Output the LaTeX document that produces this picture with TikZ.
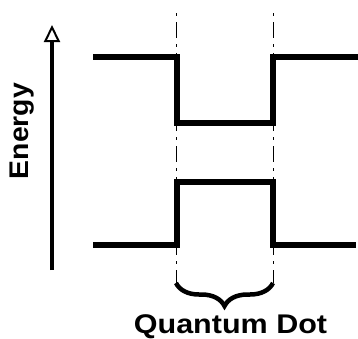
\documentclass[tikz,border=0pt]{standalone}
\usepackage{fontspec}
\setmainfont{Liberation Sans}
\usetikzlibrary{arrows.meta,decorations.pathreplacing}
\begin{document}
\begin{tikzpicture}[x=1pt,y=-1pt,
  band/.style={line width=6pt, line join=miter, line cap=butt},
  guide/.style={line width=1pt, dash pattern=on 3pt off 6pt on 16pt off 6pt},
  lbl/.style={font=\bfseries\fontsize{27}{27}\selectfont, inner sep=0pt}]
\useasboundingbox (0,0) rectangle (358,338);
% guides
\coordinate (g1t) at (176,13);
\coordinate (g1b) at (176,283);
\coordinate (g2t) at (273,13);
\coordinate (g2b) at (273,283);
\draw[guide] (g1t) -- (g1b);
\draw[guide] (g2t) -- (g2b);
% conduction band
\coordinate (c1) at (93,57);
\coordinate (c2) at (177,57);
\coordinate (c3) at (177,123);
\coordinate (c4) at (273,123);
\coordinate (c5) at (273,57);
\coordinate (c6) at (358,57);
\draw[band] (c1) -- (c2) -- (c3) -- (c4) -- (c5) -- (c6);
% valence band
\coordinate (v1) at (93,245);
\coordinate (v2) at (177,245);
\coordinate (v3) at (177,182);
\coordinate (v4) at (273,182);
\coordinate (v5) at (273,245);
\coordinate (v6) at (356,245);
\draw[band] (v1) -- (v2) -- (v3) -- (v4) -- (v5) -- (v6);
% energy axis
\coordinate (ea) at (52,270);
\coordinate (eb) at (52,25);
\draw[line width=4pt, -{Triangle[open, length=17pt, width=16pt, line width=2pt]}] (ea) -- (eb);
\node[lbl, rotate=90, xscale=1.05] (energy) at (22,131) {Energy};
% brace
\coordinate (b1) at (176,283);
\coordinate (b2) at (273,283);
\draw[line width=4.5pt, decorate, decoration={brace, mirror, amplitude=23pt, aspect=0.5}] (b1) -- (b2);
\node[lbl, anchor=base, xscale=1.13] (qd) at (230.5,333) {Quantum Dot};
\end{tikzpicture}
\end{document}
